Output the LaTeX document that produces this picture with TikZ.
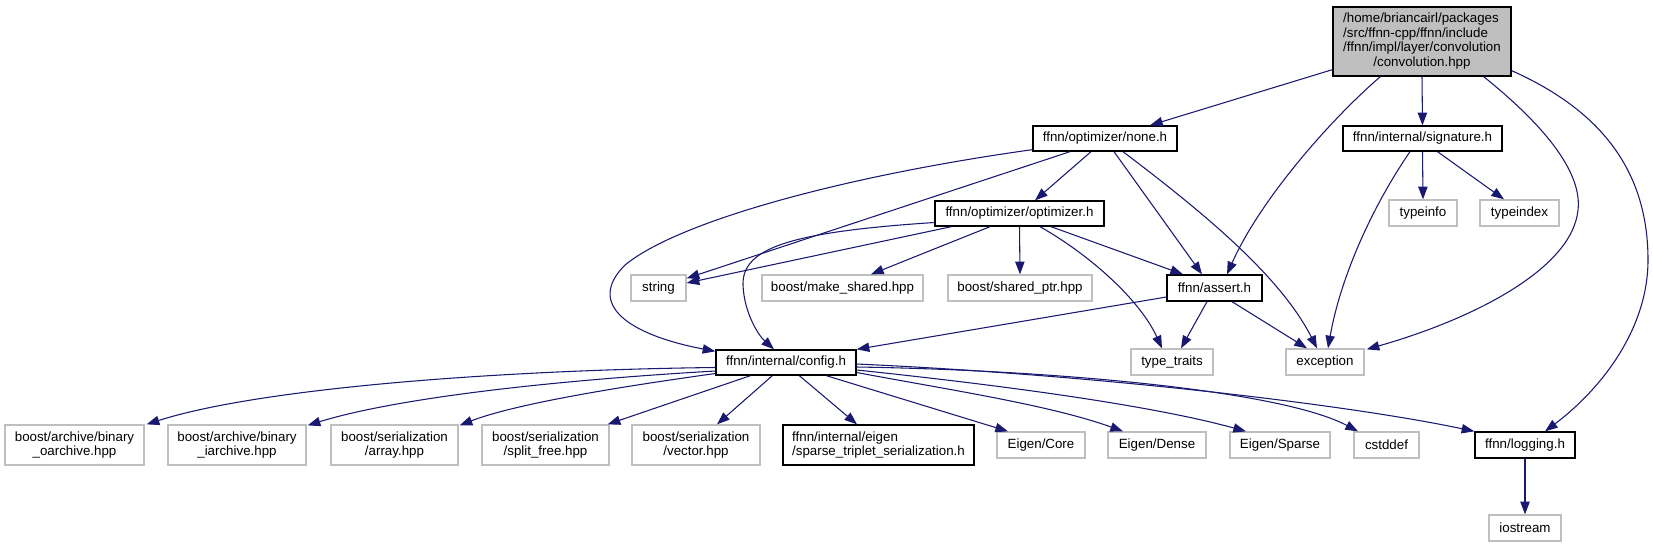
\documentclass[tikz,border=0pt]{standalone}
\usepackage{fontspec}
\setmainfont{Liberation Sans}
\usetikzlibrary{arrows.meta,calc}
\definecolor{mblue}{HTML}{191970}
\definecolor{lgray}{HTML}{BFBFBF}
\tikzset{
  base/.style={draw, inner sep=0pt, line width=1pt, text=black, font=\fontsize{10}{11}\selectfont},
  blk/.style={base, draw=black},
  gry/.style={base, draw=lgray},
  rootbox/.style={base, draw=black, fill=lgray},
  sz/.style 2 args={minimum width=#1*0.75pt, minimum height=#2*0.75pt},
  dep/.style={draw=mblue, line width=0.8pt, -{Triangle[length=9.5pt,width=7pt]}}
}
\begin{document}
\begin{tikzpicture}[x=0.75pt,y=-0.75pt]
\useasboundingbox (0,0) rectangle (1653,547);
% nodes
\node[rootbox, sz={178}{69}] (conv) at (1422,41.5) {\begin{tabular}{@{}l@{}}/home/briancairl/packages\\/src/ffnn-cpp/ffnn/include\\/ffnn/impl/layer/convolution\\\multicolumn{1}{@{}c@{}}{/convolution.hpp}\end{tabular}};
\node[blk, sz={144}{25}] (none) at (1105,138.5) {ffnn/optimizer/none.h};
\node[blk, sz={159}{25}] (sig) at (1422.5,138.5) {ffnn/internal/signature.h};
\node[blk, sz={169}{25}] (opt) at (1019.5,213.5) {ffnn/optimizer/optimizer.h};
\node[gry, sz={68}{26}] (typeinfo) at (1423,213) {typeinfo};
\node[gry, sz={79}{26}] (typeindex) at (1519.5,213) {typeindex};
\node[gry, sz={55}{26}] (string) at (658.5,288) {string};
\node[gry, sz={161}{26}] (mkshared) at (842.5,288) {boost/make\_shared.hpp};
\node[gry, sz={144}{26}] (shptr) at (1020,288) {boost/shared\_ptr.hpp};
\node[blk, sz={95}{26}] (assert) at (1214.5,288) {ffnn/assert.h};
\node[blk, sz={140}{25}] (config) at (786,362.5) {ffnn/internal/config.h};
\node[gry, sz={82}{26}] (ttraits) at (1172,362) {type\_traits};
\node[gry, sz={78}{26}] (exception) at (1325,362) {exception};
\node[gry, sz={139}{40}, align=center] (boa) at (74.5,445) {boost/archive/binary\\\_oarchive.hpp};
\node[gry, sz={138}{40}, align=center] (bia) at (237,445) {boost/archive/binary\\\_iarchive.hpp};
\node[gry, sz={127}{40}, align=center] (array) at (394.5,445) {boost/serialization\\/array.hpp};
\node[gry, sz={127}{40}, align=center] (split) at (545.5,445) {boost/serialization\\/split\_free.hpp};
\node[gry, sz={128}{40}, align=center] (vector) at (696,445) {boost/serialization\\/vector.hpp};
\node[blk, sz={191}{40}, align=left] (sparse) at (878.5,445) {ffnn/internal/eigen\\/sparse\_triplet\_serialization.h};
\node[gry, sz={88}{26}] (core) at (1041,445) {Eigen/Core};
\node[gry, sz={98}{26}] (dense) at (1157,445) {Eigen/Dense};
\node[gry, sz={100}{26}] (esparse) at (1280,445) {Eigen/Sparse};
\node[gry, sz={65}{26}] (cstddef) at (1386.5,445) {cstddef};
\node[blk, sz={100}{26}] (logging) at (1525,445) {ffnn/logging.h};
\node[gry, sz={72}{26}] (iostream) at (1525,528) {iostream};
% edges from convolution.hpp
\draw[dep] ($(conv.south west)+(0,-7)$) -- ($(none.north)+(45,0)$);
\draw[dep] ($(conv.south west)+(48,0)$) .. controls (1330,120) and (1260,200) .. ($(assert.north)+(12.5,0)$);
\draw[dep] (conv.south) -- (sig.north);
\draw[dep] ($(conv.south east)+(-28,0)$) .. controls (1550,130) and (1582,175) .. (1578,210) .. controls (1572,270) and (1470,320) .. ($(exception.north east)+(2,1)$);
\draw[dep] ($(conv.south east)+(0,-6)$) .. controls (1600,110) and (1648,170) .. (1648,260) .. controls (1648,330) and (1600,390) .. ($(logging.north)+(20,0)$);
% edges from none.h
\draw[dep] ($(none.south west)+(0,-2)$) .. controls (850,175) and (680,220) .. (625,265) .. controls (585,305) and (630,335) .. ($(config.north west)+(0,2)$);
\draw[dep] ($(none.south)+(-35,0)$) -- ($(string.north east)+(0,4)$);
\draw[dep] ($(none.south)+(-14,0)$) -- ($(opt.north)+(15.5,0)$);
\draw[dep] ($(none.south)+(9,0)$) -- ($(assert.north)+(-12.5,0)$);
\draw[dep] ($(none.south)+(18,0)$) .. controls (1200,210) and (1280,275) .. ($(exception.north)+(-8,0)$);
% edges from signature.h
\draw[dep] (sig.south) -- (typeinfo.north);
\draw[dep] ($(sig.south)+(15,0)$) -- ($(typeindex.north)+(-15.5,0)$);
\draw[dep] ($(sig.south)+(-12.5,0)$) .. controls (1370,210) and (1340,280) .. ($(exception.north)+(3,0)$);
% edges from optimizer.h
\draw[dep] ($(opt.south west)+(17,0)$) -- ($(string.east)+(0,-5)$);
\draw[dep] ($(opt.west)+(0,9)$) .. controls (790,232) and (742,248) .. (743,285) .. controls (744,312) and (758,335) .. ($(config.north)+(-12,0)$);
\draw[dep] ($(opt.south)+(-29.5,0)$) -- ($(mkshared.north)+(28.5,0)$);
\draw[dep] (opt.south) -- (shptr.north);
\draw[dep] ($(opt.south)+(20.5,0)$) .. controls (1090,255) and (1140,300) .. ($(ttraits.north)+(-10,0)$);
\draw[dep] ($(opt.south)+(31.5,0)$) -- ($(assert.north)+(-31.5,0)$);
% edges from assert.h
\draw[dep] ($(assert.west)+(0,9)$) -- (config.north east);
\draw[dep] ($(assert.south)+(-7.5,0)$) -- ($(ttraits.north)+(9,0)$);
\draw[dep] ($(assert.south)+(17.5,0)$) -- ($(exception.north)+(-18,0)$);
% edges from config.h
\draw[dep] ($(config.west)+(0,5)$) .. controls (500,370) and (260,388) .. ($(boa.north east)+(2,0)$);
\draw[dep] ($(config.west)+(0,8.5)$) .. controls (560,380) and (400,397) .. ($(bia.north east)+(1,1)$);
\draw[dep] ($(config.west)+(0,11)$) .. controls (640,384) and (520,402) .. ($(array.north east)+(1,1)$);
\draw[dep] ($(config.south west)+(35,0)$) -- ($(split.north east)+(-2,0)$);
\draw[dep] ($(config.south west)+(57,0)$) -- ($(vector.north)+(21,0)$);
\draw[dep] ($(config.south west)+(84,0)$) -- ($(sparse.north)+(-21.5,0)$);
\draw[dep] ($(config.south west)+(111,0)$) -- ($(core.north)+(-33,0)$);
\draw[dep] ($(config.east)+(0,10)$) .. controls (950,390) and (1050,405) .. ($(dense.north)+(-34,0)$);
\draw[dep] ($(config.east)+(0,7.5)$) .. controls (1000,385) and (1150,405) .. ($(esparse.north)+(-34,0)$);
\draw[dep] ($(config.east)+(0,4.5)$) .. controls (1050,370) and (1280,390) .. ($(cstddef.north)+(-28.5,0)$);
\draw[dep] ($(config.east)+(0,1.5)$) .. controls (1100,375) and (1350,405) .. (logging.north west);
% logging
\draw[dep] (logging.south) -- (iostream.north);
\end{tikzpicture}
\end{document}
